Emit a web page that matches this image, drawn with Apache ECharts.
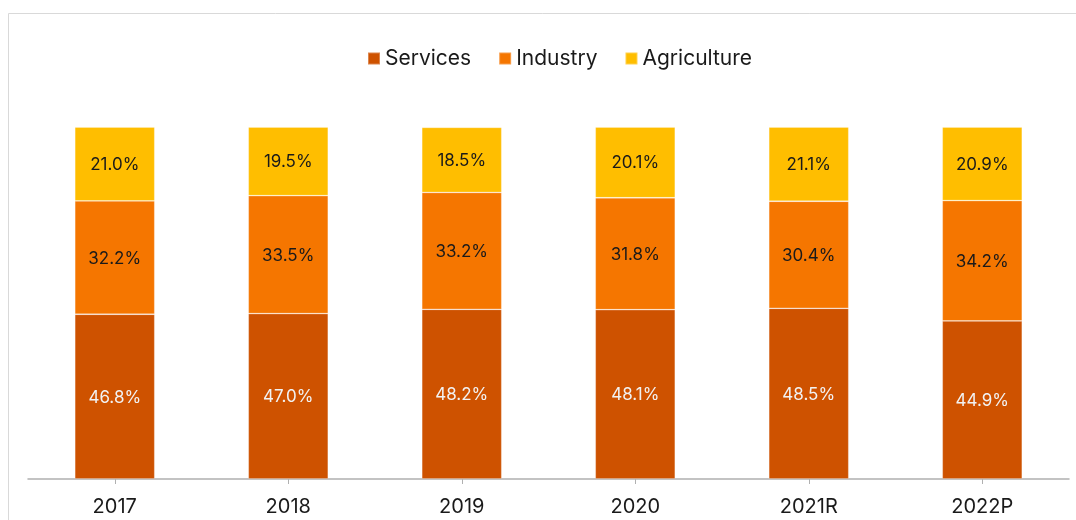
<!DOCTYPE html>
<html>
<head>
<meta charset="utf-8">
<script src="https://cdn.jsdelivr.net/npm/echarts@6/dist/echarts.min.js"></script>
<style>
  html, body { margin: 0; padding: 0; background: #fff; }
  #chart { width: 1076px; height: 520px; }
</style>
</head>
<body>
<div id="chart"></div>
<script>
// Share of output by sector (%)
const years = ['2017', '2018', '2019', '2020', '2021R', '2022P'];
const services = [46.8, 47.0, 48.2, 48.1, 48.5, 44.9];
const industry = [32.2, 33.5, 33.2, 31.8, 30.4, 34.2];
const agriculture = [21.0, 19.5, 18.5, 20.1, 21.1, 20.9];

const FONT = 'Inter, "Noto Sans", sans-serif';

function seriesOf(name, values, color, labelColor) {
  return {
    name: name,
    type: 'bar',
    stack: 'total',
    barWidth: 80,
    data: values,
    itemStyle: { color: color, borderColor: 'rgba(255,255,255,0.3)', borderWidth: 0.8 },
    label: {
      show: true,
      position: 'inside',
      color: labelColor,
      fontFamily: FONT,
      fontSize: 17,
      offset: [0, 1],
      formatter: p => p.value.toFixed(1) + '%'
    },
    emphasis: { disabled: true }
  };
}

const chart = echarts.init(document.getElementById('chart'), null, { renderer: 'canvas' });
chart.setOption({
  animation: false,
  backgroundColor: '#fff',
  graphic: [{
    type: 'rect',
    shape: { x: 8.5, y: 13.5, width: 1100, height: 540 },
    style: { fill: 'none', stroke: '#d9d9d9', lineWidth: 1 },
    silent: true,
    z: -1
  }],
  legend: {
    left: 362,
    top: 43,
    itemWidth: 12,
    itemHeight: 12,
    itemGap: 27,
    icon: 'rect',
    textStyle: { fontFamily: FONT, fontSize: 21, color: '#1a1a1a' },
    data: ['Services', 'Industry', 'Agriculture']
  },
  grid: { left: 28, right: 7, top: 127, bottom: 41, containLabel: false },
  xAxis: {
    type: 'category',
    data: years,
    axisLine: { lineStyle: { color: '#b0b0b0', width: 1.5 } },
    axisTick: { show: true, alignWithLabel: true, length: 5, lineStyle: { color: '#b0b0b0' } },
    axisLabel: { fontFamily: FONT, fontSize: 20, color: '#1a1a1a', margin: 18 }
  },
  yAxis: {
    type: 'value',
    min: 0,
    max: 100,
    show: false
  },
  series: [
    seriesOf('Services', services, '#CE5200', '#f2f2f2'),
    seriesOf('Industry', industry, '#F57600', '#1a1a1a'),
    seriesOf('Agriculture', agriculture, '#FFBE00', '#1a1a1a')
  ]
});
</script>
</body>
</html>
